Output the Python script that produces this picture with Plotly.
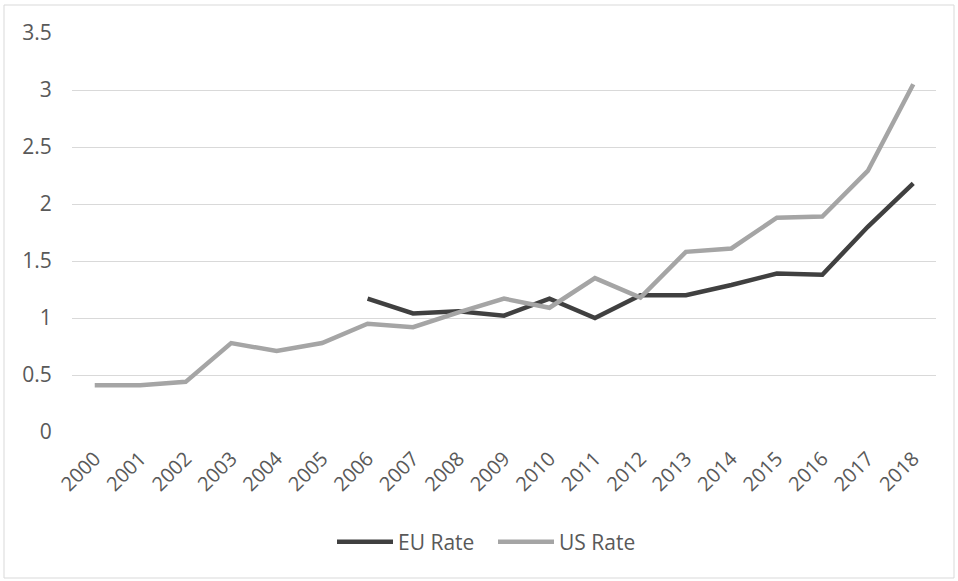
import plotly.graph_objects as go

years = [str(y) for y in range(2000, 2019)]
eu_rate = [None, None, None, None, None, None, 1.17, 1.04, 1.06, 1.02, 1.17, 1.00, 1.20, 1.20, 1.29, 1.39, 1.38, 1.80, 2.18]
us_rate = [0.41, 0.41, 0.44, 0.78, 0.71, 0.78, 0.95, 0.92, 1.05, 1.17, 1.09, 1.35, 1.18, 1.58, 1.61, 1.88, 1.89, 2.29, 3.05]
y_ticks = [0, 0.5, 1, 1.5, 2, 2.5, 3, 3.5]
y_tick_text = ["0", "0.5", "1", "1.5", "2", "2.5", "3", "3.5"]

FONT = "Open Sans"
TXT = "#595959"

W, H = 958, 581
L, R, T, B = 72, 936, 33, 432  # plot area in window pixels

fig = go.Figure()
fig.add_trace(go.Scatter(x=years, y=eu_rate, name="EU Rate", mode="lines",
                         line=dict(color="#404040", width=4.5), connectgaps=False))
fig.add_trace(go.Scatter(x=years, y=us_rate, name="US Rate", mode="lines",
                         line=dict(color="#a5a5a5", width=4.5)))

pw, ph = R - L, B - T
fig.update_layout(
    width=W, height=H,
    margin=dict(l=L, r=W - R, t=T, b=H - B, pad=0),
    paper_bgcolor="white", plot_bgcolor="white",
    font=dict(family=FONT, size=20, color=TXT),
    showlegend=True,
    legend=dict(orientation="h", x=(493 - L) / pw, xanchor="center",
                y=(B - 542) / ph, yanchor="middle", itemwidth=56,
                entrywidth=90, entrywidthmode="pixels",
                font=dict(size=21, color=TXT), tracegroupgap=0),
    xaxis=dict(type="category", showgrid=False, zeroline=False, showline=False,
               tickangle=-45, ticks="outside", ticklen=6, tickcolor="rgba(0,0,0,0)",
               tickfont=dict(size=20, color=TXT), range=[-0.5, 18.5]),
    yaxis=dict(range=[0, 3.5], tickvals=y_ticks, ticktext=y_tick_text,
               showgrid=True, gridcolor="#d9d9d9", gridwidth=1, zeroline=False,
               showline=False, ticks="outside", ticklen=15, tickcolor="rgba(0,0,0,0)",
               tickfont=dict(size=21, color=TXT)),
    shapes=[dict(type="rect", xref="paper", yref="paper",
                 x0=(4 - L) / pw, x1=(954 - L) / pw,
                 y0=(B - 578) / ph, y1=(B - 5) / ph,
                 line=dict(color="#d9d9d9", width=1), fillcolor="rgba(0,0,0,0)", layer="below")],
)

fig.write_html("out.html", config={"displayModeBar": False},
               post_script="document.body.style.margin='0';")
